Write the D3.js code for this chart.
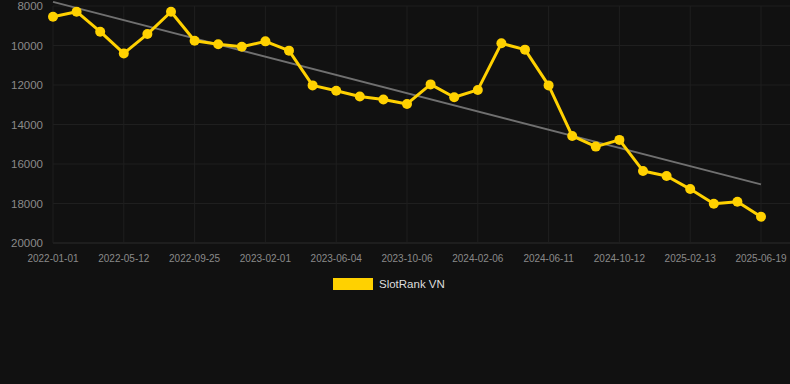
<!DOCTYPE html>
<html>
<head>
<meta charset="utf-8">
<script src="https://cdn.jsdelivr.net/npm/d3@7"></script>
<style>
  html, body { margin: 0; padding: 0; background: #111111; }
  svg { display: block; font-family: "Liberation Sans", Arial, sans-serif; }
</style>
</head>
<body>
<svg id="chart"></svg>
<script>
// rank values, one per sample (lower rank number = better, axis is reversed)
var seriesName = "SlotRank VN";
var rankValues = [
  8540, 8290, 9300, 10400, 9420, 8290, 9760, 9940, 10060, 9790, 10260,
  12020, 12290, 12580, 12730, 12960, 11970, 12620, 12250, 9890, 10210,
  12020, 14580, 15120, 14780, 16350, 16610, 17270, 18010, 17910, 18670
];
// labels shown on every third sample
var tickLabels = [
  "2022-01-01", "2022-05-12", "2022-09-25", "2023-02-01", "2023-06-04",
  "2023-10-06", "2024-02-06", "2024-06-11", "2024-10-12", "2025-02-13", "2025-06-19"
];
var yTicks = [8000, 10000, 12000, 14000, 16000, 18000, 20000];

var width = 790, height = 384;
var margin = { left: 53, right: 29, top: 6, bottom: 141 };
var lineColor = "#ffd100";

var svg = d3.select("#chart")
  .attr("width", width)
  .attr("height", height);

var idx = d3.range(rankValues.length);

var xScale = d3.scaleLinear()
  .domain([0, rankValues.length - 1])
  .range([margin.left, width - margin.right]);

var yScale = d3.scaleLinear()
  .domain([8000, 20000])
  .range([margin.top, height - margin.bottom]);

// grid
var grid = svg.append("g");
grid.selectAll("line.h")
  .data(yTicks)
  .join("line")
  .attr("class", "h")
  .attr("x1", margin.left)
  .attr("x2", width)
  .attr("y1", d => yScale(d))
  .attr("y2", d => yScale(d))
  .attr("stroke", d => d === 20000 ? "#2c2c2c" : "#1f1f1f")
  .attr("stroke-width", 1);

grid.selectAll("line.v")
  .data(tickLabels)
  .join("line")
  .attr("class", "v")
  .attr("x1", (d, i) => xScale(i * 3))
  .attr("x2", (d, i) => xScale(i * 3))
  .attr("y1", margin.top)
  .attr("y2", yScale(20000))
  .attr("stroke", "#1f1f1f")
  .attr("stroke-width", 1);

// y labels
svg.append("g")
  .selectAll("text")
  .data(yTicks)
  .join("text")
  .attr("x", 43)
  .attr("y", d => yScale(d))
  .attr("dy", "0.35em")
  .attr("text-anchor", "end")
  .attr("fill", "#8a8a8a")
  .style("font-size", "11.5px")
  .text(d => d);

// x labels
svg.append("g")
  .selectAll("text")
  .data(tickLabels)
  .join("text")
  .attr("x", (d, i) => xScale(i * 3))
  .attr("y", 262)
  .attr("text-anchor", "middle")
  .attr("fill", "#8a8a8a")
  .style("font-size", "10px")
  .text(d => d);

// least squares trend
var mx = d3.mean(idx), my = d3.mean(rankValues);
var sxy = d3.sum(idx, i => (i - mx) * (rankValues[i] - my));
var sxx = d3.sum(idx, i => (i - mx) * (i - mx));
var slope = sxy / sxx, intercept = my - slope * mx;
var trend = [0, rankValues.length - 1].map(i => [i, intercept + slope * i]);

svg.append("path")
  .datum(trend)
  .attr("fill", "none")
  .attr("stroke", "#707070")
  .attr("stroke-width", 1.8)
  .attr("d", d3.line().x(d => xScale(d[0])).y(d => yScale(d[1])));

// series line
svg.append("path")
  .datum(idx)
  .attr("fill", "none")
  .attr("stroke", lineColor)
  .attr("stroke-width", 3)
  .attr("stroke-linejoin", "round")
  .attr("d", d3.line().x(i => xScale(i)).y(i => yScale(rankValues[i])));

svg.append("g")
  .selectAll("circle")
  .data(idx)
  .join("circle")
  .attr("cx", i => xScale(i))
  .attr("cy", i => yScale(rankValues[i]))
  .attr("r", 5)
  .attr("fill", lineColor);

// legend
var legend = svg.append("g").attr("transform", "translate(333,278)");
legend.append("rect")
  .attr("width", 40)
  .attr("height", 12)
  .attr("fill", lineColor);
legend.append("text")
  .attr("x", 46)
  .attr("y", 6)
  .attr("dy", "0.35em")
  .attr("fill", "#dddddd")
  .style("font-size", "11.5px")
  .text(seriesName);
</script>
</body>
</html>
